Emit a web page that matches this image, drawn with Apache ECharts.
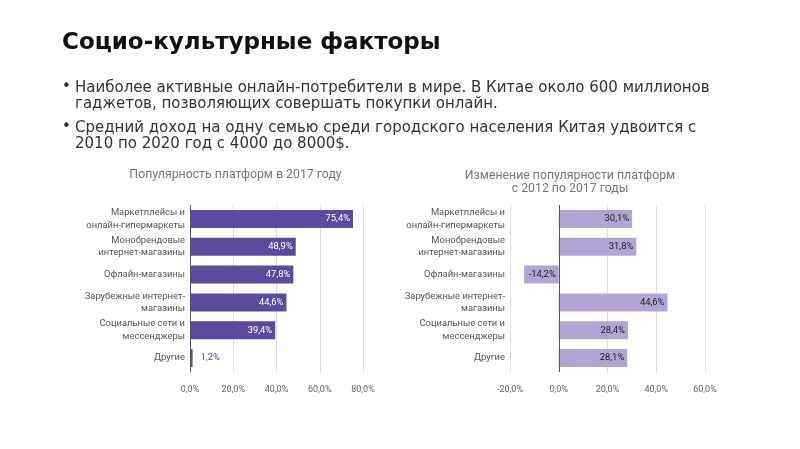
<!DOCTYPE html>
<html><head><meta charset="utf-8">
<script src="https://cdn.jsdelivr.net/npm/echarts@6/dist/echarts.min.js"></script>
<style>html,body{margin:0;padding:0;background:#fff}#c{width:800px;height:449px}</style>
</head><body><div id="c"></div>
<script>
const categories = ['Маркетплейсы и\nонлайн-гипермаркеты','Монобрендовые\nинтернет-магазины','Офлайн-магазины','Зарубежные интернет-\nмагазины','Социальные сети и\nмессенджеры','Другие'];
const popularity2017 = [75.4, 48.9, 47.8, 44.6, 39.4, 1.2];
const change2012to2017 = [30.1, 31.8, -14.2, 44.6, 28.4, 28.1];
const leftTicks = {min: 0, max: 80, interval: 20};
const rightTicks = {min: -20, max: 60, interval: 20};
const leftTitle = 'Популярность платформ в 2017 году';
const rightTitle = 'Изменение популярности платформ\nс 2012 по 2017 годы';
const slideTitle = 'Социо-культурные факторы';
const bullets = [
  'Наиболее активные онлайн-потребители в мире. В Китае около 600 миллионов\nгаджетов, позволяющих совершать покупки онлайн.',
  'Средний доход на одну семью среди городского населения Китая удвоится с\n2010 по 2020 год с 4000 до 8000$.'
];

const fmt = v => v.toFixed(1).replace('.', ',') + '%';
const FONT = 'Roboto';
const DARK = '#5c4a9f', LIGHT = '#b2a5d6';

const chart = echarts.init(document.getElementById('c'), null, {renderer: 'canvas'});

function valueAxis(idx, t) {
  return {
    type: 'value', gridIndex: idx, min: t.min, max: t.max, interval: t.interval,
    axisLine: {show: false}, axisTick: {show: false},
    splitLine: {lineStyle: {color: '#dcdcdc', width: 1}},
    axisLabel: {formatter: v => fmt(v), color: '#666', fontFamily: FONT, fontSize: 9, margin: 13}
  };
}
function catAxis(idx) {
  return {
    type: 'category', gridIndex: idx, data: categories, inverse: true,
    axisLine: {show: false}, axisTick: {show: false},
    axisLabel: {color: '#555', fontFamily: FONT, fontSize: 9.4, lineHeight: 12.5, margin: 5}
  };
}

const leftData = popularity2017.map(v => ({
  value: v,
  label: v < 5 ? {position: 'right', color: DARK, distance: 8} : {position: 'insideRight', color: '#fff'}
}));
const rightData = change2012to2017.map(v => ({
  value: v,
  label: {position: 'insideRight', color: '#222'}
}));

const zeroLine = {
  silent: true, symbol: 'none', label: {show: false},
  lineStyle: {color: '#555', type: 'solid', width: 1},
  data: [{xAxis: 0}]
};

chart.setOption({
  animation: false,
  textStyle: {fontFamily: FONT},
  title: [
    {text: leftTitle, left: 230.5, top: 164, textAlign: 'center',
     textStyle: {fontFamily: FONT, fontSize: 12.3, fontWeight: 'normal', color: '#777'}},
    {text: rightTitle, left: 565, top: 164, textAlign: 'center',
     textStyle: {fontFamily: FONT, fontSize: 12.3, fontWeight: 'normal', color: '#777', lineHeight: 13.5}}
  ],
  grid: [
    {left: 190, right: 437, top: 205, height: 167},
    {left: 510, right: 95, top: 205, height: 167}
  ],
  xAxis: [valueAxis(0, leftTicks), valueAxis(1, rightTicks)],
  yAxis: [catAxis(0), catAxis(1)],
  series: [
    {type: 'bar', xAxisIndex: 0, yAxisIndex: 0, data: leftData, barWidth: 18,
     itemStyle: {color: DARK},
     label: {show: true, formatter: p => fmt(p.value), fontFamily: FONT, fontSize: 9.4, distance: 3},
     markLine: zeroLine},
    {type: 'bar', xAxisIndex: 1, yAxisIndex: 1, data: rightData, barWidth: 18,
     itemStyle: {color: LIGHT},
     label: {show: true, formatter: p => fmt(p.value), fontFamily: FONT, fontSize: 9.4, distance: 3},
     markLine: zeroLine}
  ],
  graphic: [
    {type: 'text', left: 62, top: 32, style: {text: slideTitle, fontFamily: 'DejaVu Sans', fontWeight: 'bold', fontSize: 23, fill: '#111'}},
    {type: 'text', left: 62, top: 80, style: {text: '•', fontFamily: 'DejaVu Sans', fontSize: 15, fill: '#333'}},
    {type: 'text', left: 75, top: 80, style: {text: bullets[0], fontFamily: 'DejaVu Sans', fontSize: 15, lineHeight: 16, fill: '#333'}},
    {type: 'text', left: 62, top: 120, style: {text: '•', fontFamily: 'DejaVu Sans', fontSize: 15, fill: '#333'}},
    {type: 'text', left: 75, top: 120, style: {text: bullets[1], fontFamily: 'DejaVu Sans', fontSize: 15, lineHeight: 16, fill: '#333'}}
  ]
});
</script></body></html>
